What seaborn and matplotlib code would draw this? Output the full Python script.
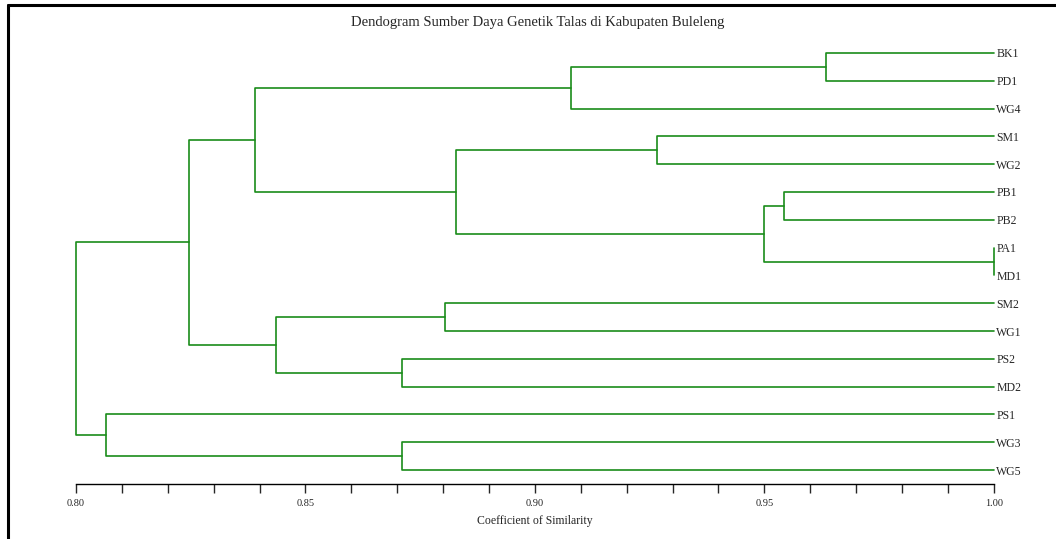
import numpy as np
import pandas as pd
import matplotlib
matplotlib.use('Agg')
import matplotlib.pyplot as plt
import seaborn as sns
from matplotlib.ticker import MultipleLocator
from matplotlib.lines import Line2D

# leaf order (top to bottom)
leaves = ['BK1', 'PD1', 'WG4', 'SM1', 'WG2', 'PB1', 'PB2', 'PA1', 'MD1',
          'SM2', 'WG1', 'PS2', 'MD2', 'PS1', 'WG3', 'WG5']

# merges: (left, right, similarity) -- names refer to leaves or earlier clusters
merge_left = ['BK1', 'c1', 'SM1', 'PB1', 'PA1', 'c4', 'c3', 'c2', 'SM2', 'PS2', 'c9', 'c8', 'WG3', 'PS1', 'c12']
merge_right = ['PD1', 'WG4', 'WG2', 'PB2', 'MD1', 'c5', 'c6', 'c7', 'WG1', 'MD2', 'c10', 'c11', 'WG5', 'c13', 'c14']
merge_sim = [0.9634, 0.9078, 0.9266, 0.9542, 1.000, 0.9499, 0.8828, 0.8390,
             0.8804, 0.8710, 0.8436, 0.8246, 0.8710, 0.8065, 0.8000]

line_color = '#1a8c1a'

sns.set_style('white')
plt.rcParams['font.family'] = ['Liberation Serif', 'DejaVu Serif']


def build_segments():
    """Turn merges into dendrogram line segments"""
    pos = {name: (1.0, i) for i, name in enumerate(leaves)}
    rows = []
    seg = 0
    for k, (a, b, s) in enumerate(zip(merge_left, merge_right, merge_sim)):
        xa, ya = pos[a]
        xb, yb = pos[b]
        # bracket: child a -> node -> child b
        for x, y in [(xa, ya), (s, ya), (s, yb), (xb, yb)]:
            rows.append({'seg': seg, 'x': x, 'y': y})
        seg += 1
        pos['c%d' % (k + 1)] = (s, (ya + yb) / 2.0)
    return pd.DataFrame(rows)


def main():
    df = build_segments()

    fig = plt.figure(figsize=(10.56, 5.39), dpi=100)
    ax = fig.add_axes([0.072, 0.102, 0.869, 0.8256])

    sns.lineplot(data=df, x='x', y='y', units='seg', estimator=None, sort=False,
                 color=line_color, linewidth=1.2, ax=ax, clip_on=False)

    ax.set_xlim(0.80, 1.00)
    ax.set_ylim(len(leaves) - 0.5, -0.5)

    # leaf names on the right
    ax.yaxis.tick_right()
    ax.set_yticks(range(len(leaves)))
    ax.set_yticklabels(leaves, fontsize=8.5)
    ax.tick_params(axis='y', length=0, pad=2)
    ax.set_ylabel('')

    ax.xaxis.set_major_locator(MultipleLocator(0.05))
    ax.xaxis.set_minor_locator(MultipleLocator(0.01))
    ax.set_xticklabels(['%.2f' % v for v in ax.get_xticks()])
    ax.tick_params(axis='x', which='both', direction='out', length=6.5, width=1,
                   labelsize=7.5, pad=4, bottom=True)
    ax.set_xlabel('Coefficient of Similarity', fontsize=8.5, labelpad=5)

    for side in ['top', 'right', 'left']:
        ax.spines[side].set_visible(False)
    ax.spines['bottom'].set_color('black')
    ax.spines['bottom'].set_linewidth(1)

    fig.text(0.509, 0.958, 'Dendogram Sumber Daya Genetik Talas di Kabupaten Buleleng',
             ha='center', va='center', fontsize=10.5)

    # outer frame (top and left edges visible)
    fig.add_artist(Line2D([0.008, 1.0], [0.991, 0.991], color='black', linewidth=2.2,
                          transform=fig.transFigure))
    fig.add_artist(Line2D([0.008, 0.008], [0.0, 0.991], color='black', linewidth=2.2,
                          transform=fig.transFigure))

    fig.savefig('out.png', dpi=100)
    plt.close(fig)


if __name__ == '__main__':
    main()
